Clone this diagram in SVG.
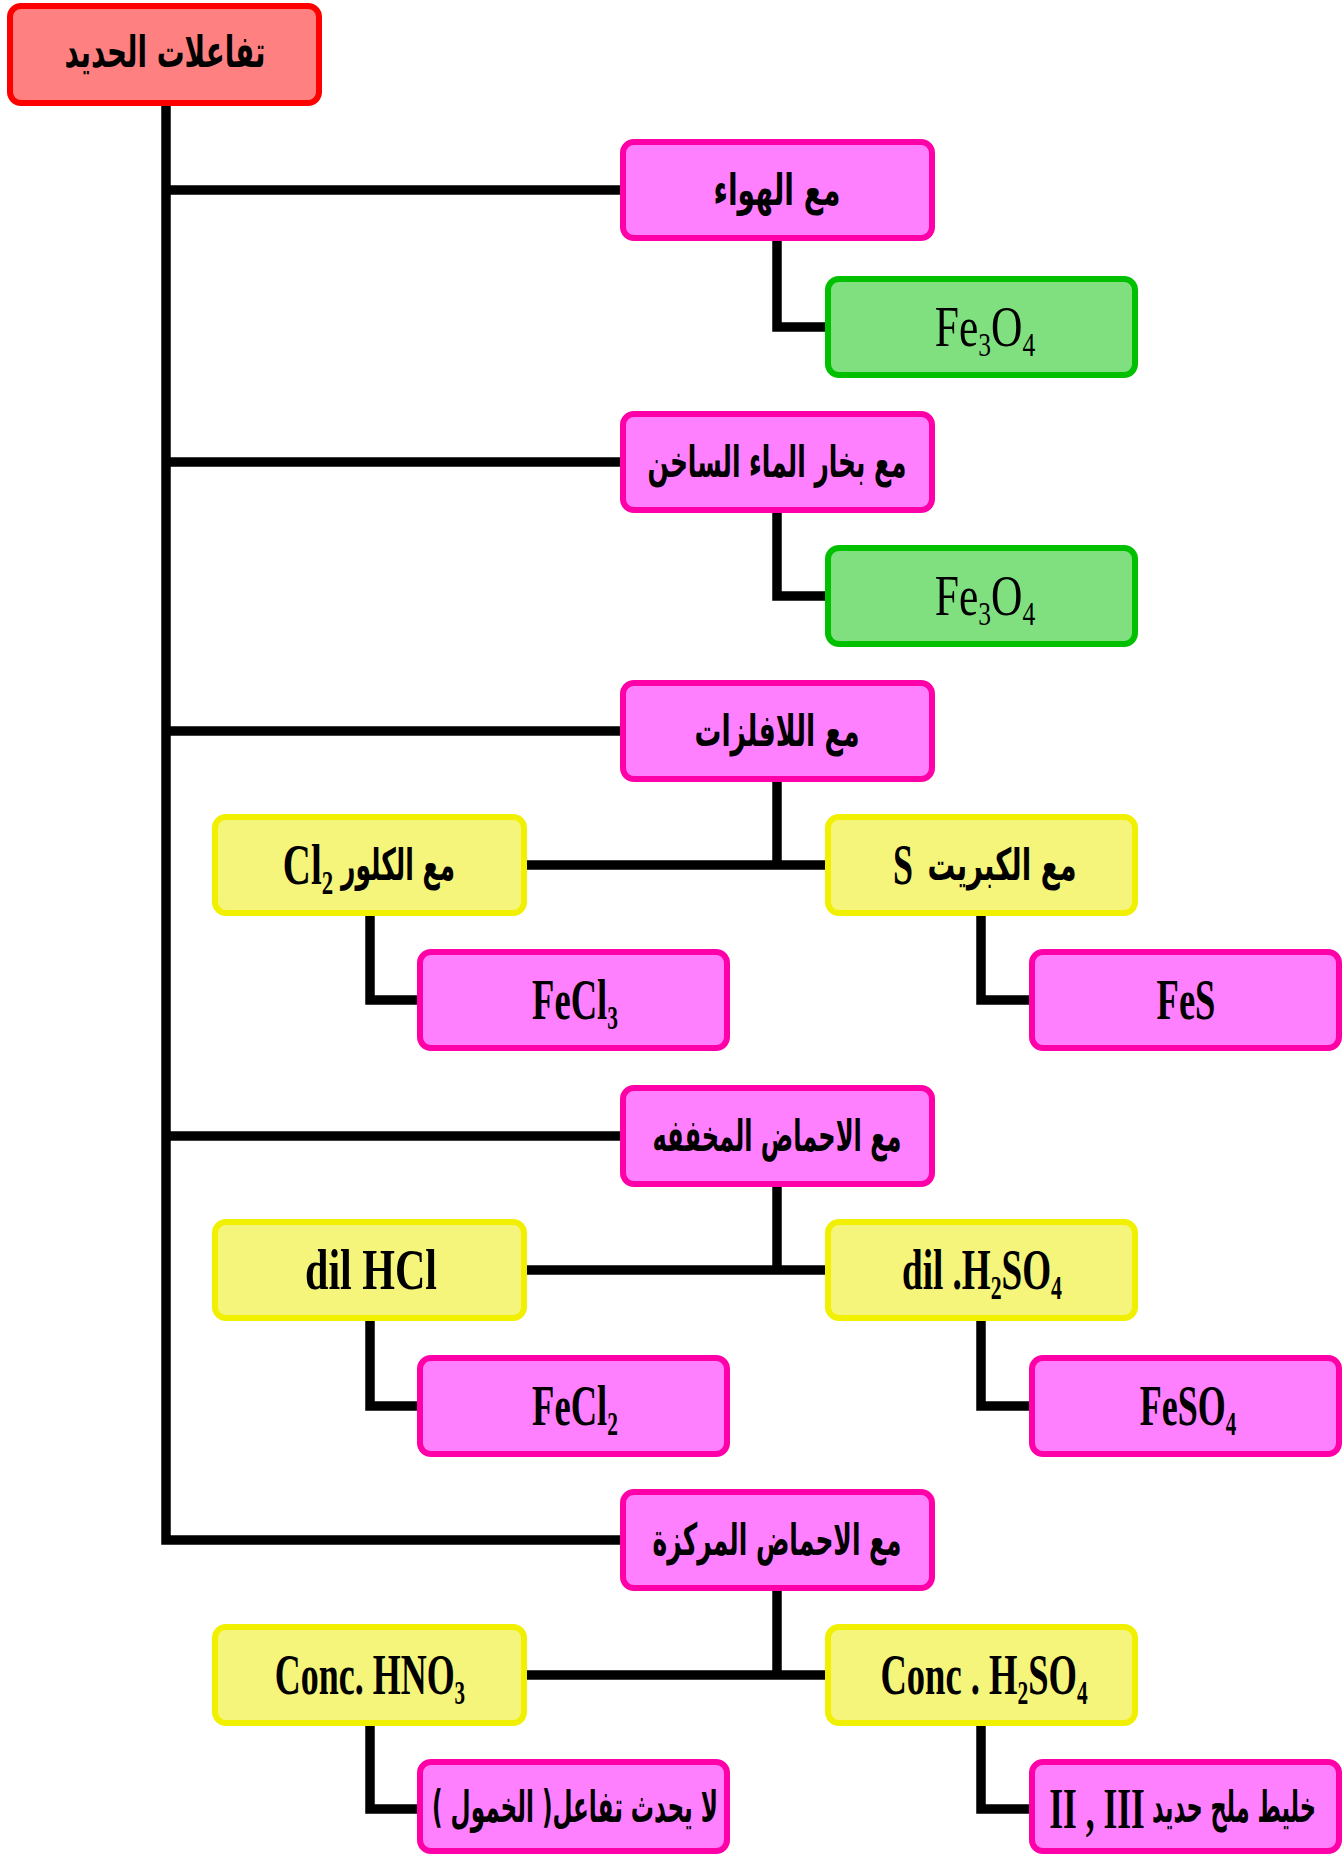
<svg xmlns="http://www.w3.org/2000/svg" width="1342" height="1854" viewBox="0 0 1342 1854">
  <style>
    .box { stroke-width: 6; }
    .red { fill: #ff8080; stroke: #ff0000; }
    .pink { fill: #ff80ff; stroke: #ff00a8; }
    .green { fill: #80e080; stroke: #00c000; }
    .yellow { fill: #f5f57c; stroke: #f0f000; }
    .wire { fill: none; stroke: #000; stroke-width: 9.5; stroke-linejoin: miter; stroke-linecap: butt; }
    .lat { font-family: "Liberation Serif", "Times New Roman", serif; font-weight: bold; font-size: 58px; fill: #000; }
    .reg { font-weight: normal; }
    .ar { font-family: "DejaVu Sans", sans-serif; font-weight: bold; font-size: 44px; fill: #000; }
    .sub { font-size: 34px; }
  </style>

  <!-- connectors -->
  <g id="connectors" class="wire">
    <path d="M166 103 V1540 H623"/>
    <path d="M166 190 H623"/>
    <path d="M166 462 H623"/>
    <path d="M166 731 H623"/>
    <path d="M166 1136 H623"/>
    <path d="M777 238 V327 H828"/>
    <path d="M777 510 V596 H828"/>
    <path d="M777 779 V865"/>
    <path d="M524 865 H828"/>
    <path d="M777 1184 V1270"/>
    <path d="M524 1270 H828"/>
    <path d="M777 1588 V1675"/>
    <path d="M524 1675 H828"/>
    <path d="M370 913 V1000 H420"/>
    <path d="M981 913 V1000 H1032"/>
    <path d="M370 1318 V1406 H420"/>
    <path d="M981 1318 V1406 H1032"/>
    <path d="M370 1723 V1809 H420"/>
    <path d="M981 1723 V1809 H1032"/>
  </g>

  <!-- root -->
  <g id="iron-reactions">
    <rect class="box red" x="10" y="6" width="309" height="97" rx="11"/>
    <text class="ar" x="165" y="67" text-anchor="middle" textLength="201" lengthAdjust="spacingAndGlyphs">تفاعلات الحديد</text>
  </g>

  <!-- first level -->
  <g id="with-air">
    <rect class="box pink" x="623" y="142" width="309" height="96" rx="11"/>
    <text class="ar" x="777" y="205" text-anchor="middle" textLength="127" lengthAdjust="spacingAndGlyphs">مع الهواء</text>
  </g>
  <g id="air-product">
    <rect class="box green" x="828" y="279" width="307" height="96" rx="11"/>
    <text class="lat reg" transform="translate(985 346) scale(0.75 1)" text-anchor="middle">Fe<tspan class="sub" dy="10">3</tspan><tspan dy="-10">O</tspan><tspan class="sub" dy="10">4</tspan></text>
  </g>

  <g id="with-steam">
    <rect class="box pink" x="623" y="414" width="309" height="96" rx="11"/>
    <text class="ar" x="777" y="477" text-anchor="middle" textLength="259" lengthAdjust="spacingAndGlyphs">مع بخار الماء الساخن</text>
  </g>
  <g id="steam-product">
    <rect class="box green" x="828" y="548" width="307" height="96" rx="11"/>
    <text class="lat reg" transform="translate(985 615) scale(0.75 1)" text-anchor="middle">Fe<tspan class="sub" dy="10">3</tspan><tspan dy="-10">O</tspan><tspan class="sub" dy="10">4</tspan></text>
  </g>

  <g id="with-nonmetals">
    <rect class="box pink" x="623" y="683" width="309" height="96" rx="11"/>
    <text class="ar" x="777" y="746" text-anchor="middle" textLength="165" lengthAdjust="spacingAndGlyphs">مع اللافلزات</text>
  </g>
  <g id="with-chlorine">
    <rect class="box yellow" x="215" y="817" width="309" height="96" rx="11"/>
    <text class="lat" transform="translate(308 884) scale(0.67 1)" text-anchor="middle">Cl<tspan class="sub" dy="10">2</tspan></text>
    <text class="ar" x="398" y="880" text-anchor="middle" textLength="114" lengthAdjust="spacingAndGlyphs">مع الكلور</text>
  </g>
  <g id="with-sulfur">
    <rect class="box yellow" x="828" y="817" width="307" height="96" rx="11"/>
    <text class="lat" transform="translate(903 884) scale(0.62 1)" text-anchor="middle">S</text>
    <text class="ar" x="1002" y="880" text-anchor="middle" textLength="149" lengthAdjust="spacingAndGlyphs">مع الكبريت</text>
  </g>
  <g id="fecl3">
    <rect class="box pink" x="420" y="952" width="307" height="96" rx="11"/>
    <text class="lat" transform="translate(575 1019) scale(0.63 1)" text-anchor="middle">FeCl<tspan class="sub" dy="10">3</tspan></text>
  </g>
  <g id="fes">
    <rect class="box pink" x="1032" y="952" width="307" height="96" rx="11"/>
    <text class="lat" transform="translate(1186 1019) scale(0.63 1)" text-anchor="middle">FeS</text>
  </g>

  <g id="with-dilute-acids">
    <rect class="box pink" x="623" y="1088" width="309" height="96" rx="11"/>
    <text class="ar" x="777" y="1151" text-anchor="middle" textLength="249" lengthAdjust="spacingAndGlyphs">مع الاحماض المخففه</text>
  </g>
  <g id="dil-hcl">
    <rect class="box yellow" x="215" y="1222" width="309" height="96" rx="11"/>
    <text class="lat" transform="translate(371 1289) scale(0.725 1)" text-anchor="middle">dil HCl</text>
  </g>
  <g id="dil-h2so4">
    <rect class="box yellow" x="828" y="1222" width="307" height="96" rx="11"/>
    <text class="lat" transform="translate(982 1289) scale(0.64 1)" text-anchor="middle">dil .H<tspan class="sub" dy="10">2</tspan><tspan dy="-10">SO</tspan><tspan class="sub" dy="10">4</tspan></text>
  </g>
  <g id="fecl2">
    <rect class="box pink" x="420" y="1358" width="307" height="96" rx="11"/>
    <text class="lat" transform="translate(575 1425) scale(0.63 1)" text-anchor="middle">FeCl<tspan class="sub" dy="10">2</tspan></text>
  </g>
  <g id="feso4">
    <rect class="box pink" x="1032" y="1358" width="307" height="96" rx="11"/>
    <text class="lat" transform="translate(1188 1425) scale(0.62 1)" text-anchor="middle">FeSO<tspan class="sub" dy="10">4</tspan></text>
  </g>

  <g id="with-conc-acids">
    <rect class="box pink" x="623" y="1492" width="309" height="96" rx="11"/>
    <text class="ar" x="777" y="1555" text-anchor="middle" textLength="249" lengthAdjust="spacingAndGlyphs">مع الاحماض المركزة</text>
  </g>
  <g id="conc-hno3">
    <rect class="box yellow" x="215" y="1627" width="309" height="96" rx="11"/>
    <text class="lat" transform="translate(370 1694) scale(0.62 1)" text-anchor="middle">Conc. HNO<tspan class="sub" dy="10">3</tspan></text>
  </g>
  <g id="conc-h2so4">
    <rect class="box yellow" x="828" y="1627" width="307" height="96" rx="11"/>
    <text class="lat" transform="translate(984 1694) scale(0.63 1)" text-anchor="middle">Conc . H<tspan class="sub" dy="10">2</tspan><tspan dy="-10">SO</tspan><tspan class="sub" dy="10">4</tspan></text>
  </g>
  <g id="passivity">
    <rect class="box pink" x="420" y="1762" width="307" height="89" rx="11"/>
    <text class="ar" x="575" y="1822" text-anchor="middle" direction="rtl" textLength="286" lengthAdjust="spacingAndGlyphs">لا يحدث تفاعل( الخمول )</text>
  </g>
  <g id="mixed-salts">
    <rect class="box pink" x="1032" y="1762" width="307" height="89" rx="11"/>
    <text class="lat" transform="translate(1097 1828) scale(0.61 1)" text-anchor="middle">II , III</text>
    <text class="ar" transform="translate(1234 1822) scale(0.6 1)" x="0" y="0" text-anchor="middle" textLength="273" lengthAdjust="spacingAndGlyphs">خليط ملح حديد</text>
  </g>
</svg>
